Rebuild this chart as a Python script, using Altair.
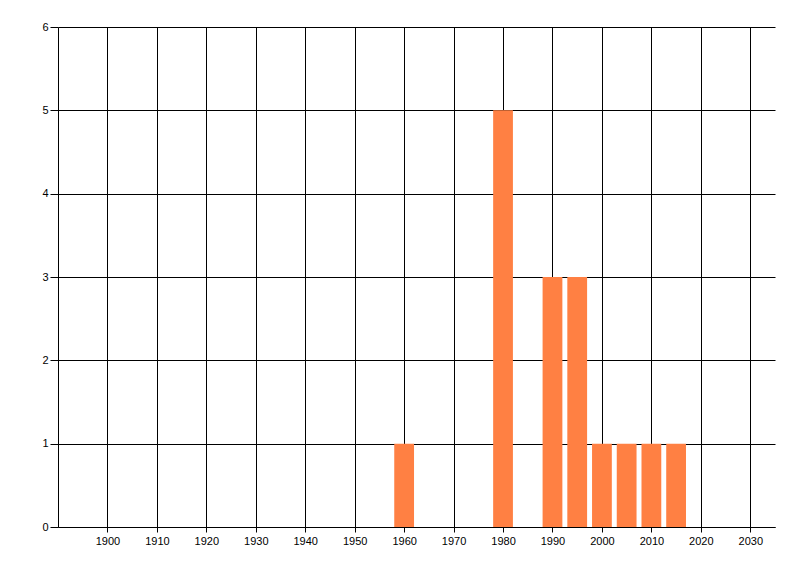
import altair as alt
import pandas as pd

years = [1960, 1980, 1990, 1995, 2000, 2005, 2010, 2015]
counts = [1, 5, 3, 3, 1, 1, 1, 1]
x_ticks = [1900, 1910, 1920, 1930, 1940, 1950, 1960, 1970, 1980, 1990, 2000, 2010, 2020, 2030]
y_ticks = [0, 1, 2, 3, 4, 5, 6]

df = pd.DataFrame({"year": years, "count": counts})

font = "Liberation Sans"

bars = alt.Chart(df).transform_calculate(
    x0="datum.year - 2", x1="datum.year + 2"
).mark_bar(color="#FF8043", opacity=1).encode(
    x=alt.X("x0:Q", scale=alt.Scale(domain=[1890, 2035], nice=False, zero=False, padding=0),
            axis=alt.Axis(values=x_ticks, format="d", title=None, grid=True, offset=0,
                          gridColor="black", gridOpacity=1, gridWidth=1,
                          domainColor="black", domainWidth=1,
                          tickColor="black", tickSize=5, labelPadding=3,
                          labelFont=font, labelFontSize=11, labelColor="#000")),
    x2="x1:Q",
    y=alt.Y("count:Q", scale=alt.Scale(domain=[0, 6], nice=False, padding=0),
            axis=alt.Axis(values=y_ticks, title=None, grid=True, offset=0,
                          gridColor="black", gridOpacity=1, gridWidth=1,
                          domainColor="black", domainWidth=1,
                          tickColor="black", tickSize=8, labelPadding=2,
                          labelFont=font, labelFontSize=11, labelColor="#000")),
    y2=alt.datum(0),
)

chart = bars.properties(
    width=717, height=500,
    autosize=alt.AutoSizeParams(type="none"),
    padding={"left": 50, "top": 19, "right": 17, "bottom": 41},
).configure_view(stroke=None).configure_axis(gridCap="butt")

chart.save("out.html", embed_options={"renderer": "svg", "actions": False})
